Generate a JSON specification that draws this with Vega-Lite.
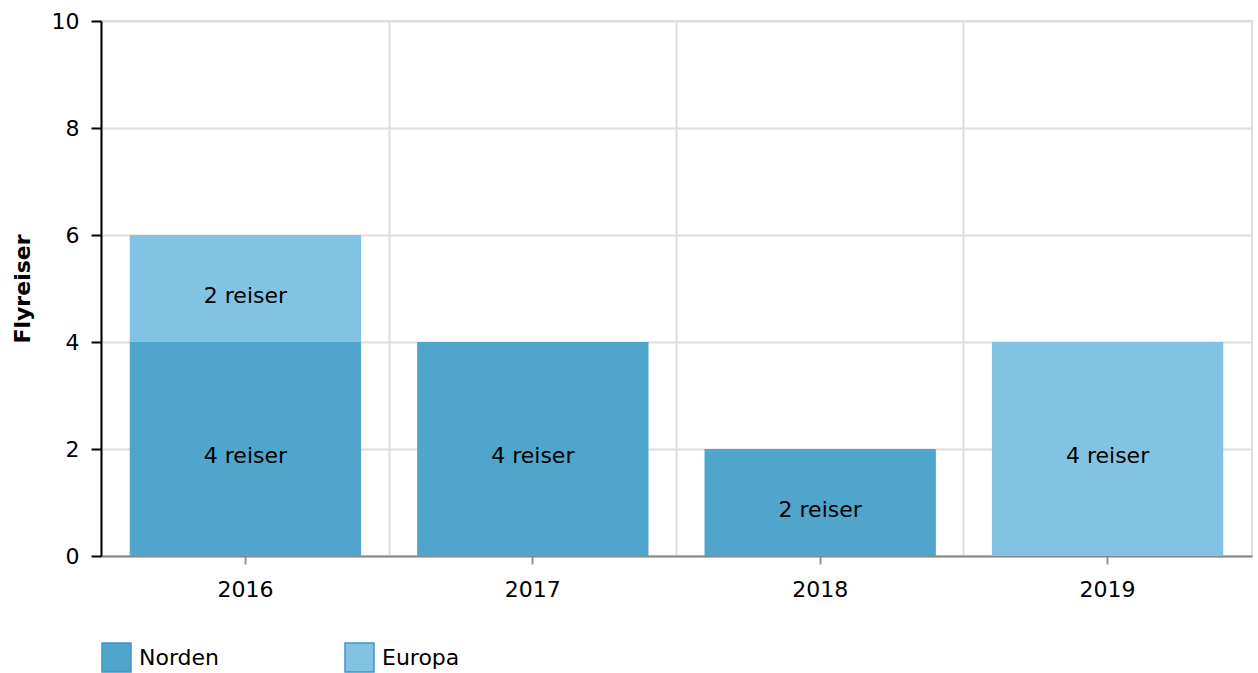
{
  "$schema": "https://vega.github.io/schema/vega-lite/v6.json",
  "autosize": {"type": "none"},
  "width": 1151,
  "height": 535,
  "padding": {"left": 101, "top": 21, "right": 6, "bottom": 117},
  "background": "white",
  "config": {
    "font": "DejaVu Sans",
    "view": {"stroke": "#dddddd", "strokeWidth": 2}
  },
  "data": {
    "values": [
      {"aar": "2016", "region": "Norden", "antall": 4},
      {"aar": "2016", "region": "Europa", "antall": 2},
      {"aar": "2017", "region": "Norden", "antall": 4},
      {"aar": "2018", "region": "Norden", "antall": 2},
      {"aar": "2019", "region": "Europa", "antall": 4}
    ]
  },
  "transform": [
    {"calculate": "datum.antall + ' reiser'", "as": "etikett"},
    {"calculate": "datum.region === 'Norden' ? 0 : 1", "as": "rek"},
    {"stack": "antall", "groupby": ["aar"], "sort": [{"field": "rek", "order": "ascending"}], "as": ["y0", "y1"]},
    {"calculate": "(datum.y0 + datum.y1) / 2", "as": "ymid"}
  ],
  "layer": [
    {
      "mark": {"type": "bar"},
      "encoding": {
        "x": {
          "field": "aar", "type": "nominal",
          "scale": {"paddingInner": 0.195, "paddingOuter": 0.1},
          "axis": {
            "title": null, "labelAngle": 0, "labelFontSize": 22, "labelColor": "#000000",
            "domainColor": "#888888", "domainWidth": 2, "tickColor": "#999999", "tickWidth": 2,
            "tickSize": 8, "labelPadding": 15, "grid": false
          }
        },
        "y": {
          "field": "y0", "type": "quantitative",
          "scale": {"domain": [0, 10], "nice": false},
          "axis": {
            "title": "Flyreiser", "titleFontSize": 22, "titleFontWeight": "bold", "titleColor": "#000000",
            "titleX": -79, "titleY": 267.5, "titleAngle": 270, "titleAlign": "center", "titleBaseline": "middle",
            "values": [0, 2, 4, 6, 8, 10], "labelFontSize": 22, "labelColor": "#000000",
            "domainColor": "#000000", "domainWidth": 2, "tickColor": "#000000", "tickWidth": 2, "tickSize": 10,
            "labelPadding": 12, "grid": true, "gridColor": "#dddddd", "gridWidth": 2
          }
        },
        "y2": {"field": "y1"},
        "color": {
          "field": "region", "type": "nominal",
          "scale": {"domain": ["Norden", "Europa"], "range": ["#4fa5cc", "#82c3e3"]},
          "legend": {
            "title": null, "orient": "none", "direction": "horizontal", "legendX": 0, "legendY": 621,
            "symbolType": "square", "symbolSize": 841, "symbolStrokeColor": "#3f97c6", "symbolStrokeWidth": 1.5,
            "labelFontSize": 22, "labelColor": "#000000", "labelOffset": 7, "columnPadding": 122
          }
        }
      }
    },
    {
      "mark": {"type": "text", "fontSize": 22, "color": "#000000", "baseline": "middle", "dy": 7},
      "encoding": {
        "x": {
          "field": "aar", "type": "nominal",
          "axis": {
            "orient": "top", "title": null, "labels": false, "ticks": false, "domain": false,
            "grid": true, "bandPosition": -0.121, "gridColor": "#dddddd", "gridWidth": 2
          }
        },
        "y": {"field": "ymid", "type": "quantitative"},
        "text": {"field": "etikett"}
      }
    }
  ],
  "resolve": {"axis": {"x": "independent"}}
}
